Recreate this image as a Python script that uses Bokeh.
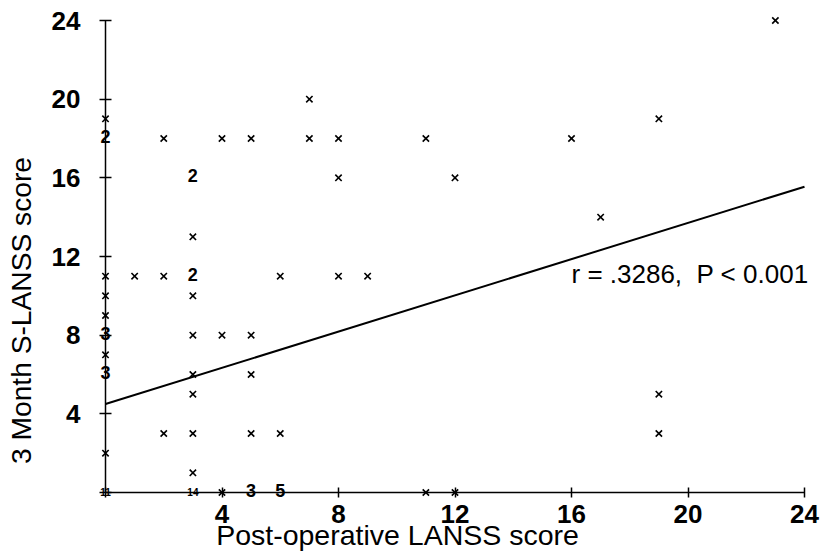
import math
from bokeh.plotting import figure
from bokeh.models import Range1d, FixedTicker, Label, ColumnDataSource
from bokeh.core.properties import value
from bokeh.embed import file_html
from bokeh.resources import INLINE

# ---- data ----
# single observations (drawn as x markers)
single_x = [0, 2, 4, 5, 7, 8, 11, 16, 7, 23, 19,
            3, 8, 12, 17,
            0, 1, 2, 6, 8, 9,
            0, 3, 0, 3, 4, 5, 0, 3, 5, 3,
            2, 3, 5, 6, 19, 19, 0, 3,
            4, 11, 12]
single_y = [19, 18, 18, 18, 18, 18, 18, 18, 20, 24, 19,
            13, 16, 16, 14,
            11, 11, 11, 11, 11, 11,
            10, 10, 9, 8, 8, 8, 7, 6, 6, 5,
            3, 3, 3, 3, 3, 5, 2, 1,
            0, 0, 0]

# coincident observations (drawn as their count)
multi_x = [0, 3, 3, 0, 0, 5, 6]
multi_y = [18, 16, 11, 8, 6, 0, 0]
multi_n = ["2", "2", "2", "3", "3", "3", "5"]

many_x = [0, 3]
many_y = [0, 0]
many_n = ["11", "14"]

# fitted regression line (end points)
fit_x = [0, 24]
fit_y = [4.5, 15.55]

ticks = [0, 4, 8, 12, 16, 20, 24]
axis_min, axis_max = 0, 24
stat_text = "r = .3286,\u00a0 P < 0.001"
x_title = "Post-operative LANSS score"
y_title = "3 Month S-LANSS score"

FONT = "Liberation Sans"

# ---- layout (pixels) ----
W, H = 823, 552
FL, FR, FT, FB = 105, 804, 20, 492          # where the axes' 0 and 24 sit
sx = (FR - FL) / (axis_max - axis_min)
sy = (FB - FT) / (axis_max - axis_min)
x_range = Range1d(axis_min - FL / sx, axis_max + (W - FR) / sx)
y_range = Range1d(axis_min - (H - FB) / sy, axis_max + FT / sy)

p = figure(width=W, height=H, output_backend="svg", toolbar_location=None,
           x_range=x_range, y_range=y_range, min_border=0)
p.grid.visible = False
p.outline_line_color = None
p.background_fill_color = "white"
p.border_fill_color = "white"

for ax in (p.xaxis[0], p.yaxis[0]):
    ax.fixed_location = 0
    ax.bounds = (axis_min, axis_max)
    ax.ticker = FixedTicker(ticks=ticks)
    ax.major_label_overrides = {0: ""}
    ax.minor_tick_line_color = None
    ax.axis_line_color = "black"
    ax.axis_line_width = 1.5
    ax.major_tick_line_color = "black"
    ax.major_tick_line_width = 1.5
    ax.major_label_text_font = FONT
    ax.major_label_text_font_style = "bold"
    ax.major_label_text_font_size = "26px"
    ax.major_label_text_color = "black"

p.xaxis.major_tick_in = 5
p.xaxis.major_tick_out = 5
p.xaxis.major_label_standoff = 7
p.yaxis.major_tick_in = 6
p.yaxis.major_tick_out = 6
p.yaxis.major_label_standoff = 19

# regression line
p.line(fit_x, fit_y, line_color="black", line_width=2)

# single points
sr = p.scatter(single_x, single_y, marker="x", size=9, line_color="black", line_width=1.6)
sr.level = "overlay"

# count labels
src_m = ColumnDataSource(dict(x=multi_x, y=multi_y, t=multi_n))
tr = p.text(x="x", y="y", text="t", source=src_m, text_font=value(FONT),
            text_font_style="bold", text_font_size="18px", text_align="center",
            text_baseline="middle", text_color="black", y_offset=-2)
tr.level = "overlay"
src_s = ColumnDataSource(dict(x=many_x, y=many_y, t=many_n))
tr2 = p.text(x="x", y="y", text="t", source=src_s, text_font=value(FONT),
             text_font_style="bold", text_font_size="10px", text_align="center",
             text_baseline="middle", text_color="black", y_offset=-1)
tr2.level = "overlay"

# statistic text
p.add_layout(Label(x=16.0, y=11.1, text=stat_text, text_font=FONT,
                   text_font_size="26px", text_color="black",
                   text_baseline="alphabetic", text_align="left"))

# axis titles (screen units; the frame fills the canvas)
p.add_layout(Label(x=397, y=18, x_units="screen", y_units="screen", text=x_title,
                   text_font=FONT, text_font_size="28.5px", text_color="black",
                   text_align="center", text_baseline="alphabetic"))
p.add_layout(Label(x=20, y=H - 310, x_units="screen", y_units="screen", text=y_title,
                   angle=math.pi / 2, text_font=FONT, text_font_size="28.2px",
                   text_color="black", text_align="center", text_baseline="alphabetic"))

open("out.html", "w").write(file_html(p, INLINE))
